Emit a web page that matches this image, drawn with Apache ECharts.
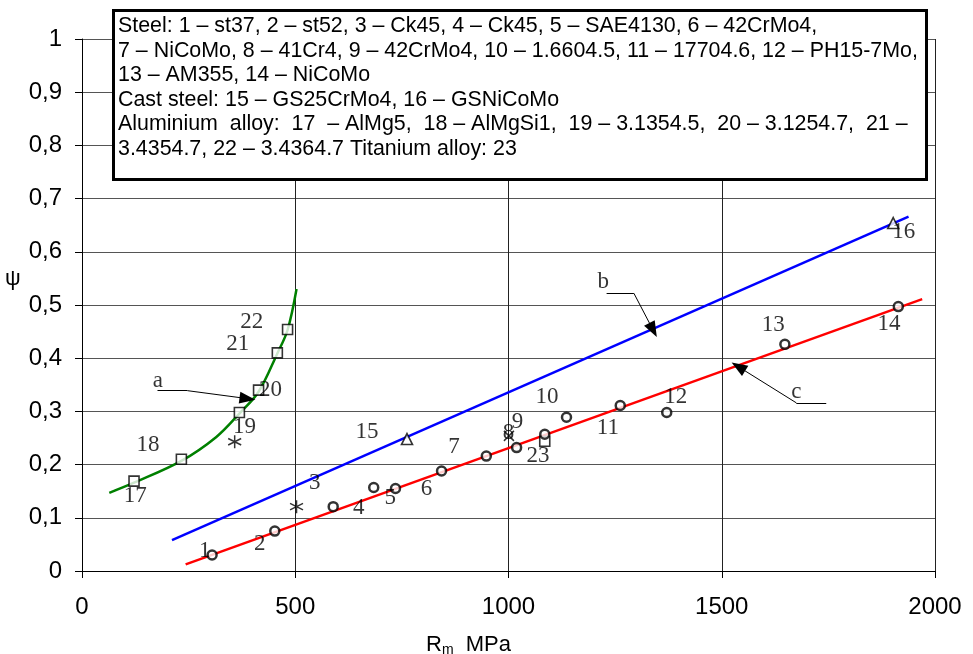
<!DOCTYPE html>
<html>
<head>
<meta charset="utf-8">
<script src="https://cdn.jsdelivr.net/npm/echarts@6/dist/echarts.min.js"></script>
<style>
html, body { margin: 0; padding: 0; background: #fff; }
#chart { width: 973px; height: 654px; }
</style>
</head>
<body>
<div id="chart"></div>
<script>
// data (Rm in MPa, psi)
var steelPts = [[305, 0.03], [452, 0.075], [589, 0.121], [684, 0.157], [735, 0.155], [843, 0.188],
	[948, 0.216], [1019, 0.232], [1085, 0.257], [1136, 0.289], [1262, 0.311], [1371, 0.298],
	[1648, 0.426], [1914, 0.497]];
var castPts = [[762, 0.248], [1902, 0.654]];
var aluPts = [[122, 0.169], [233, 0.21], [369, 0.298], [414, 0.34], [458, 0.41], [482, 0.454]];
var titanPts = [[1085, 0.244]];
var starPts = [[358, 0.243], [503, 0.121]];
var crossPts = [[1001, 0.254]];

var lineA = [[64, 0.147], [122, 0.166], [233, 0.207], [315, 0.252], [369, 0.296], [414, 0.337], [458, 0.409], [482, 0.453], [503, 0.53]];
var lineB = [[211, 0.058], [1938, 0.666]];
var lineC = [[243, 0.0125], [1970, 0.511]];

// number labels and letters (text, Rm, psi)
var labelText = ['1', '2', '3', '4', '5', '6', '7', '8', '9', '10', '11', '12', '13', '14', '15', '16',
	'17', '18', '19', '20', '21', '22', '23', 'a', 'b', 'c'];
var labelX = [288, 417, 546, 649, 723, 808, 872, 1000, 1021, 1090, 1233, 1392, 1621, 1892, 668, 1927,
	125, 155, 381, 442, 365, 398, 1069, 178, 1222, 1675];
var labelY = [0.038, 0.051, 0.165, 0.118, 0.137, 0.155, 0.233, 0.259, 0.281, 0.327, 0.268, 0.327, 0.462, 0.464, 0.261, 0.637,
	0.142, 0.236, 0.271, 0.34, 0.427, 0.469, 0.217, 0.357, 0.544, 0.336];

// arrow leaders: horizontal stub + pointer
var stubs = [[[177, 0.339], [247, 0.339]], [[1230, 0.522], [1294, 0.522]], [[1675, 0.316], [1745, 0.316]]];
var pointers = [[[247, 0.339], [388, 0.324]], [[1294, 0.522], [1339, 0.453]], [[1675, 0.316], [1539, 0.384]]];

var legendLines = [
	'Steel: 1 – st37, 2 – st52, 3 – Ck45, 4 – Ck45, 5 – SAE4130, 6 – 42CrMo4,',
	'7 – NiCoMo, 8 – 41Cr4, 9 – 42CrMo4, 10 – 1.6604.5, 11 – 17704.6, 12 – PH15-7Mo,',
	'13 – AM355, 14 – NiCoMo',
	'Cast steel: 15 – GS25CrMo4, 16 – GSNiCoMo',
	'Aluminium  alloy:  17  – AlMg5,  18 – AlMgSi1,  19 – 3.1354.5,  20 – 3.1254.7,  21 –',
	'3.4354.7, 22 – 3.4364.7 Titanium alloy: 23'
];

var labelData = labelText.map(function (t, i) {
	return { name: t, value: [labelX[i], labelY[i]] };
});

function segs(list) {
	return list.map(function (s) {
		return [{ coord: s[0] }, { coord: s[1] }];
	});
}

var myChart = echarts.init(document.getElementById('chart'));

var boxStyle = { color: '#fff', borderColor: '#000', borderWidth: 1.6 };

var option = {
	animation: false,
	grid: { left: 82, right: 38, top: 39, bottom: 83, containLabel: false, outerBoundsMode: 'none' },
	xAxis: {
		type: 'value',
		min: 0, max: 2000, interval: 500,
		name: '{r|R}{s|m}{r|  MPa}',
		nameLocation: 'middle',
		nameGap: 62,
		nameTextStyle: {
			padding: [0, 80, 0, 0],
			rich: {
				r: { fontFamily: 'Liberation Sans', fontSize: 22, color: '#000' },
				s: { fontFamily: 'Liberation Sans', fontSize: 14, color: '#000', padding: [10, 0, 0, 0] }
			}
		},
		axisLine: { show: true, lineStyle: { color: '#000', width: 1 } },
		axisTick: { show: true, length: 7, lineStyle: { color: '#000' } },
		axisLabel: {
			margin: 24, color: '#000', fontSize: 24, fontFamily: 'Liberation Sans',
			formatter: function (v) { return String(v); }
		},
		splitLine: { show: true, lineStyle: { color: '#222', width: 1 } }
	},
	yAxis: {
		type: 'value',
		min: 0, max: 1, interval: 0.1,
		axisLine: { show: true, lineStyle: { color: '#000', width: 1 } },
		axisTick: { show: true, length: 7, lineStyle: { color: '#000' } },
		axisLabel: {
			margin: 20, color: '#000', fontSize: 24, fontFamily: 'Liberation Sans',
			formatter: function (v) { return String(Math.round(v * 10) / 10).replace('.', ','); }
		},
		splitLine: { show: true, lineStyle: { color: '#555', width: 1 } }
	},
	series: [
		{
			type: 'line', data: lineA, smooth: 0.35, symbol: 'none', silent: true,
			lineStyle: { color: '#008000', width: 2.5 }
		},
		{
			type: 'line', data: lineB, symbol: 'none', silent: true,
			lineStyle: { color: '#0000ff', width: 2.5 }
		},
		{
			type: 'line', data: lineC, symbol: 'none', silent: true,
			lineStyle: { color: '#ff0000', width: 2.5 }
		},
		{ type: 'scatter', data: steelPts, symbol: 'circle', symbolSize: 9, itemStyle: { color: '#fff', borderColor: '#000', borderWidth: 2.5 }, z: 5 },
		{ type: 'scatter', data: aluPts, symbol: 'rect', symbolSize: 10, itemStyle: boxStyle, z: 5 },
		{ type: 'scatter', data: titanPts, symbol: 'rect', symbolSize: 10, itemStyle: boxStyle, z: 4 },
		{ type: 'scatter', data: castPts, symbol: 'triangle', symbolSize: 11, itemStyle: boxStyle, z: 5 },
		{
			type: 'scatter', data: starPts, symbolSize: 13,
			symbol: 'path://M0,-10L0,10M-8.66,-5L8.66,5M-8.66,5L8.66,-5',
			itemStyle: { color: 'none', borderColor: '#000', borderWidth: 1.5 }, z: 5
		},
		{
			type: 'scatter', data: crossPts, symbolSize: 10,
			symbol: 'path://M-10,-10L10,10M-10,10L10,-10',
			itemStyle: { color: 'none', borderColor: '#000', borderWidth: 1.5 }, z: 5
		},
		{
			type: 'scatter', data: labelData, symbolSize: 0, silent: true, z: 6,
			label: {
				show: true, position: 'inside', formatter: '{b}',
				fontFamily: 'Liberation Serif', fontSize: 23, color: '#000'
			}
		},
		{
			type: 'line', data: [], silent: true,
			markLine: {
				silent: true, symbol: ['none', 'none'], label: { show: false },
				lineStyle: { color: '#000', width: 1, type: 'solid' },
				data: segs(stubs)
			}
		},
		{
			type: 'line', data: [], silent: true,
			markLine: {
				silent: true, symbol: ['none', 'triangle'], symbolSize: [12, 16], label: { show: false },
				lineStyle: { color: '#000', width: 1, type: 'solid' },
				itemStyle: { color: '#000' },
				data: segs(pointers)
			}
		}
	],
	graphic: [
		{
			type: 'rect', left: 112, top: 9, z: 100,
			shape: { width: 813, height: 169 },
			style: { fill: '#fff', stroke: '#000', lineWidth: 3 }
		},
		{
			type: 'text', left: 118, top: 14, z: 101,
			style: {
				text: legendLines.join('\n'),
				font: '21.4px "Liberation Sans"',
				lineHeight: 24.5,
				fill: '#000'
			}
		},
		{
			type: 'text', left: 5, top: 268, z: 101,
			style: { text: 'ψ', font: '22px "Liberation Sans"', fill: '#000' }
		}
	]
};

myChart.setOption(option);
</script>
</body>
</html>
